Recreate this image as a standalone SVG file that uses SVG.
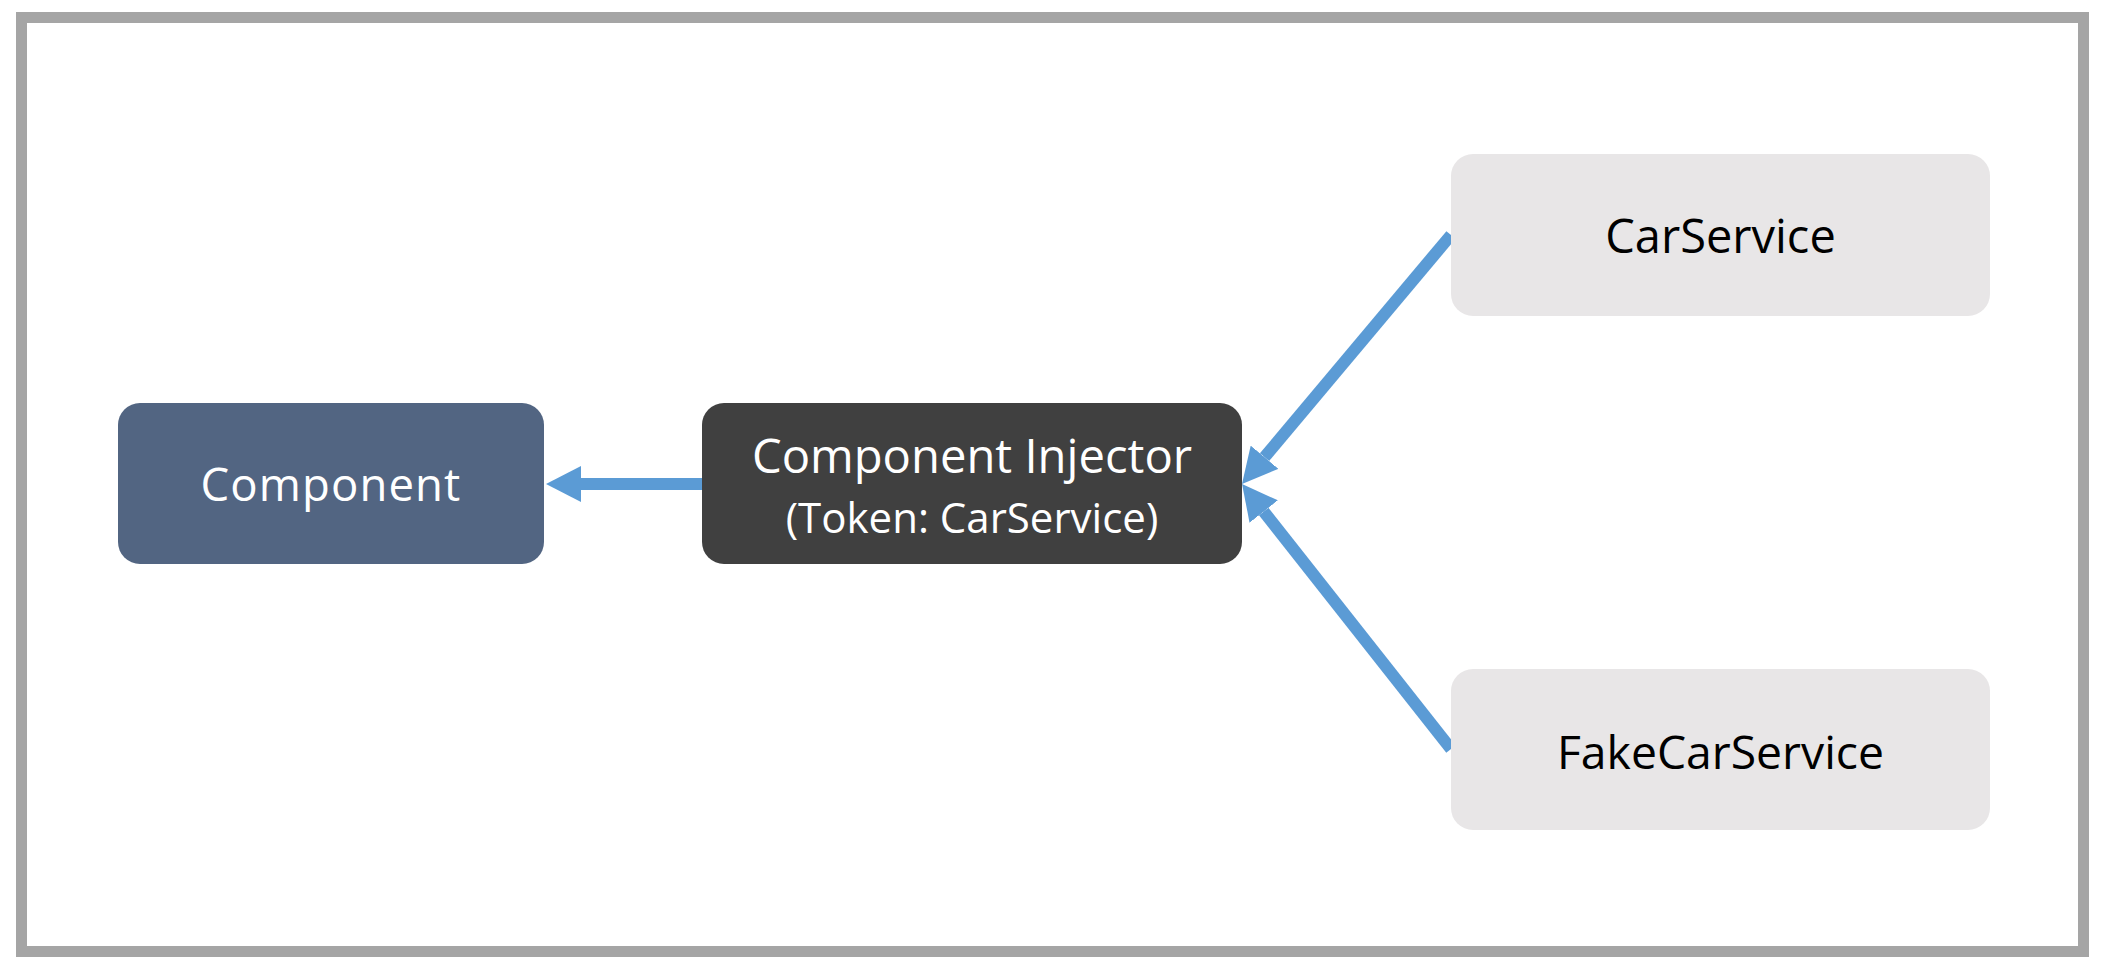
<svg xmlns="http://www.w3.org/2000/svg" width="2106" height="974" viewBox="0 0 2106 974">
  <style>
    .lbl { font-family: "Open Sans", "Noto Sans", "Liberation Sans", sans-serif; text-anchor: middle; }
    .light { fill: #FFFFFF; }
    .dark { fill: #000000; }
    .conn { stroke: #5B9BD5; stroke-width: 12; fill: none; stroke-linecap: butt; }
  </style>
  <defs>
    <marker id="arrow" markerUnits="userSpaceOnUse" markerWidth="35" markerHeight="36" viewBox="0 0 35 36" refX="0" refY="18" orient="auto">
      <path d="M0,0 L35,18 L0,36 Z" fill="#5B9BD5"/>
    </marker>
  </defs>
  <rect x="0" y="0" width="2106" height="974" fill="#FFFFFF"/>
  <rect id="frame" x="21.5" y="17.5" width="2062" height="934" fill="#FFFFFF" stroke="#A5A5A5" stroke-width="11"/>

  <g id="connectors">
    <line class="conn" x1="702" y1="484" x2="581" y2="484" marker-end="url(#arrow)"/>
    <line class="conn" x1="1451" y1="235" x2="1264.5" y2="457.2" marker-end="url(#arrow)"/>
    <line class="conn" x1="1451" y1="749" x2="1263.7" y2="511.5" marker-end="url(#arrow)"/>
  </g>

  <g id="component">
    <rect x="118" y="403" width="426" height="161" rx="22" ry="22" fill="#526582"/>
    <text class="lbl light" x="331" y="501" font-size="45.5" letter-spacing="1.1">Component</text>
  </g>

  <g id="injector">
    <rect x="702" y="403" width="540" height="161" rx="22" ry="22" fill="#404040"/>
    <text class="lbl light" x="972" y="473" font-size="47.2">Component Injector</text>
    <text class="lbl light" x="972" y="533" font-size="42">(Token: CarService)</text>
  </g>

  <g id="carservice">
    <rect x="1451" y="154" width="539" height="162" rx="22" ry="22" fill="#E8E6E7"/>
    <text class="lbl dark" x="1720.5" y="253" font-size="47">CarService</text>
  </g>

  <g id="fakecarservice">
    <rect x="1451" y="669" width="539" height="161" rx="22" ry="22" fill="#E8E6E7"/>
    <text class="lbl dark" x="1720.5" y="769" font-size="46.3">FakeCarService</text>
  </g>
</svg>
